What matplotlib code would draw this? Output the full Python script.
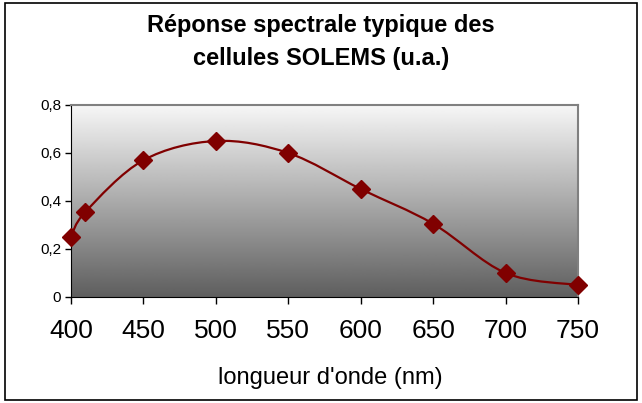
import matplotlib
matplotlib.use("Agg")
import matplotlib.pyplot as plt
import numpy as np
from matplotlib.path import Path
from matplotlib.patches import PathPatch, Rectangle

plt.rcParams['font.family'] = ['Liberation Sans', 'DejaVu Sans']

wavelength = [400, 410, 450, 500, 550, 600, 650, 700, 750]
response = [0.25, 0.355, 0.57, 0.65, 0.60, 0.45, 0.305, 0.10, 0.05]
x_ticks = [400, 450, 500, 550, 600, 650, 700, 750]
y_ticks = [0, 0.2, 0.4, 0.6, 0.8]
y_labels = ['0', '0,2', '0,4', '0,6', '0,8']

fig = plt.figure(figsize=(6.42, 4.03), dpi=100)
fig.patches.append(Rectangle((5 / 642, 3 / 403), 632 / 642, 397 / 403,
                             transform=fig.transFigure, fill=False,
                             edgecolor='black', linewidth=1.2))

ax = fig.add_axes([71 / 642, 1 - 297 / 403, 507 / 642, 192 / 403])
ax.set_xlim(400, 750)
ax.set_ylim(0, 0.8)

# gray gradient background (white at top, dark at bottom)
grad = np.linspace(0.97, 0.37, 256).reshape(-1, 1)
ax.imshow(grad, extent=[0, 1, 0, 1], transform=ax.transAxes, cmap='gray',
          vmin=0, vmax=1, aspect='auto', zorder=0)

# smoothed line (Catmull-Rom style Bezier through the points)
x = np.array(wavelength, dtype=float)
y = np.array(response, dtype=float)
verts = [(x[0], y[0])]
codes = [Path.MOVETO]
n = len(x)
for i in range(n - 1):
    p0 = (x[i - 1], y[i - 1]) if i > 0 else (x[i], y[i])
    p1 = (x[i], y[i])
    p2 = (x[i + 1], y[i + 1])
    p3 = (x[i + 2], y[i + 2]) if i + 2 < n else (x[i + 1], y[i + 1])
    c1 = (p1[0] + (p2[0] - p0[0]) / 6, p1[1] + (p2[1] - p0[1]) / 6)
    c2 = (p2[0] - (p3[0] - p1[0]) / 6, p2[1] - (p3[1] - p1[1]) / 6)
    verts += [c1, c2, p2]
    codes += [Path.CURVE4] * 3
ax.add_patch(PathPatch(Path(verts, codes), facecolor='none',
                       edgecolor='#800000', linewidth=1.6, zorder=2))
ax.plot(wavelength, response, linestyle='none', marker='D', markersize=9.5,
        color='#800000', clip_on=False, zorder=3)

ax.set_xticks(x_ticks)
ax.set_xticklabels([str(v) for v in x_ticks], fontsize=19)
ax.set_yticks(y_ticks)
ax.set_yticklabels(y_labels, fontsize=11)
ax.tick_params(axis='x', direction='out', length=5, width=1, color='black', pad=11)
ax.tick_params(axis='y', direction='out', length=4, width=1, color='black', pad=3)
for side in ['left', 'bottom']:
    ax.spines[side].set_color('black')
for side in ['top', 'right']:
    ax.spines[side].set_color('#808080')
    ax.spines[side].set_linewidth(1.5)

fig.text(330 / 642, 1 - 384 / 403, "longueur d'onde (nm)", ha='center',
         va='baseline', fontsize=17)
fig.text(0.5, 1 - 32 / 403, 'Réponse spectrale typique des',
         ha='center', va='baseline', fontsize=17, fontweight='bold')
fig.text(0.5, 1 - 65 / 403, 'cellules SOLEMS (u.a.)',
         ha='center', va='baseline', fontsize=17, fontweight='bold')

fig.savefig('out.png', dpi=100)
